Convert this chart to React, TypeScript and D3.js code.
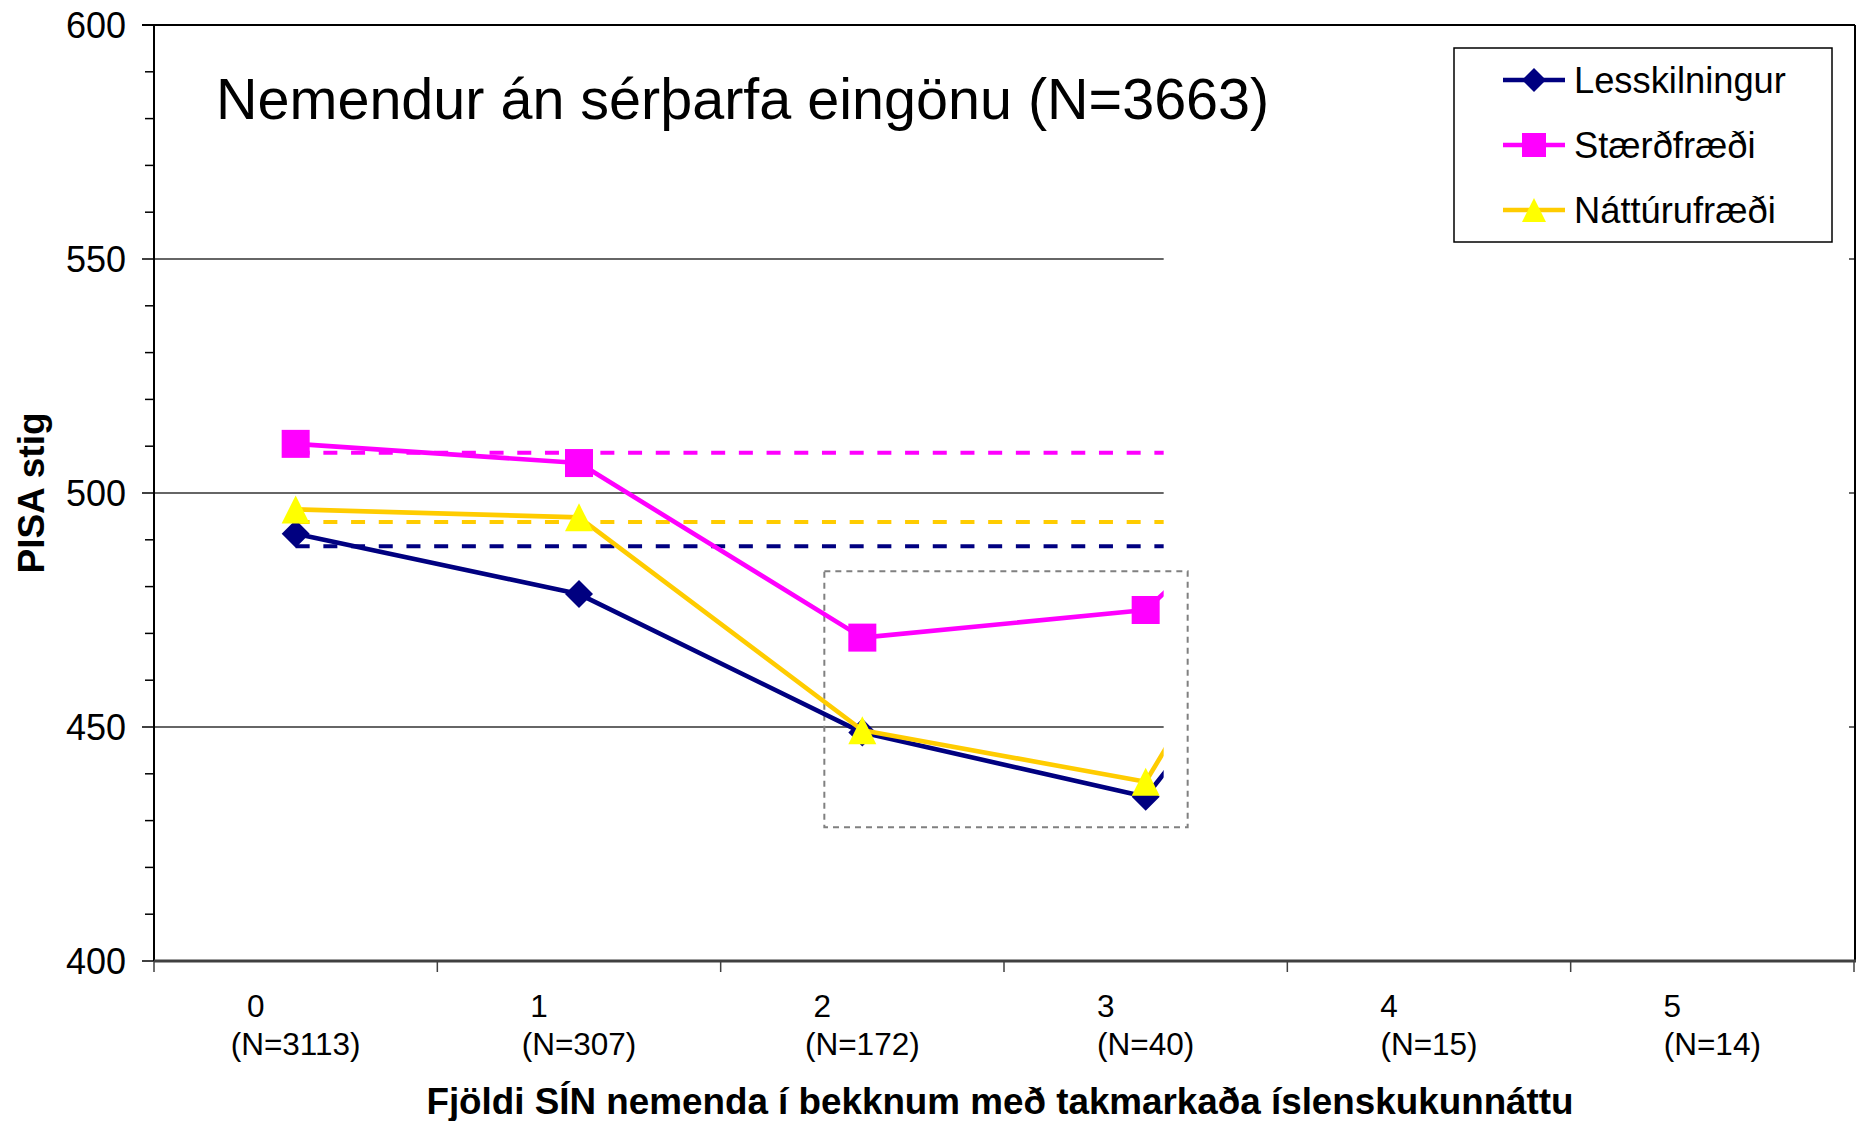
import React from "react";
import * as d3 from "d3";

// ---------- data ----------
const categories = ["0", "1", "2", "3", "4", "5"];
const categoryN = ["(N=3113)", "(N=307)", "(N=172)", "(N=40)", "(N=15)", "(N=14)"];
const seriesNames = ["Lesskilningur", "Stærðfræði", "Náttúrufræði"];
const lesskilningur: (number | null)[] = [491.3, 478.4, 448.8, 435.1, 512, null];
const staerdfraedi: (number | null)[] = [510.5, 506.4, 469.1, 475.0, 531, null];
const natturufraedi: (number | null)[] = [496.5, 494.8, 449.3, 438.3, 539, null];
const overallMeans = [488.6, 508.6, 493.8]; // same order as seriesNames
const yTicks = [400, 450, 500, 550, 600];
const yMinorStep = 10;
const highlight = { from: "2", to: "3", low: 428.6, high: 483.3 };
const titleText = "Nemendur án sérþarfa eingönu (N=3663)";
const yTitle = "PISA stig";
const xTitle = "Fjöldi SÍN nemenda í bekknum með takmarkaða íslenskukunnáttu";

// ---------- styles ----------
const lineColors = ["#000080", "#FF00FF", "#FFCC00"];
const markerFills = ["#000080", "#FF00FF", "#FFFF00"];
const markerShapes = ["diamond", "square", "triangle"];
const FONT = "'Liberation Sans', Arial, Helvetica, sans-serif";

const W = 1858;
const H = 1121;
const L = 154;
const R = 1854;
const T = 25;
const B = 961;

function Marker({ shape, cx, cy, size, fill }: { shape: string; cx: number; cy: number; size: number; fill: string }) {
  const h = size / 2;
  if (shape === "square") {
    return <rect x={cx - h} y={cy - h} width={size} height={size} fill={fill} />;
  }
  if (shape === "diamond") {
    return <path d={`M${cx},${cy - h}L${cx + h},${cy}L${cx},${cy + h}L${cx - h},${cy}Z`} fill={fill} />;
  }
  return <path d={`M${cx},${cy - h}L${cx + h},${cy + h}L${cx - h},${cy + h}Z`} fill={fill} />;
}

export default function App() {
  const x = d3.scaleBand<string>().domain(categories).range([L, R]).padding(0);
  const bw = x.bandwidth();
  const cx = (c: string) => (x(c) as number) + bw / 2;
  const y = d3.scaleLinear().domain([400, 600]).range([B, T]);

  const clipRight = cx("3") + 18;
  const seriesData = [lesskilningur, staerdfraedi, natturufraedi];

  const lineGen = d3
    .line<number | null>()
    .defined((d) => d !== null)
    .x((_, i) => cx(categories[i]))
    .y((d) => y(d as number));

  const minorTicks = d3.range(400, 600 + 0.001, yMinorStep);

  const hlLeft = cx(highlight.from) - 38;
  const hlRight = cx(highlight.to) + 42;

  return (
    <svg
      width={W}
      height={H}
      style={{ position: "absolute", left: 0, top: 0, background: "#fff" }}
      fontFamily={FONT}
    >
      <defs>
        <clipPath id="plotClip">
          <rect x={L} y={T} width={clipRight - L} height={B - T} />
        </clipPath>
      </defs>
      <rect x={0} y={0} width={W} height={H} fill="#fff" />

      {/* gridlines */}
      {yTicks
        .filter((t) => t !== 400 && t !== 600)
        .map((t) => (
          <g key={"g" + t}>
            <line x1={L} x2={clipRight} y1={y(t)} y2={y(t)} stroke="#333" strokeWidth={1.5} />
            <line x1={R - 5} x2={R} y1={y(t)} y2={y(t)} stroke="#333" strokeWidth={1.5} />
          </g>
        ))}

      {/* plot border: top, right, left */}
      <line x1={L - 12} x2={R + 1} y1={y(600)} y2={y(600)} stroke="#000" strokeWidth={2} />
      <line x1={R + 1} x2={R + 1} y1={T} y2={B} stroke="#000" strokeWidth={2} />
      <line x1={L} x2={L} y1={T} y2={B} stroke="#000" strokeWidth={2} />

      {/* y ticks */}
      {minorTicks.map((t) => (
        <line
          key={"mt" + t}
          x1={t % 50 === 0 ? L - 12 : L - 9}
          x2={L}
          y1={y(t)}
          y2={y(t)}
          stroke="#000"
          strokeWidth={1.5}
        />
      ))}
      {yTicks.map((t) => (
        <text key={"yl" + t} x={126} y={y(t)} dy="0.36em" textAnchor="end" fontSize={36} fill="#000">
          {t}
        </text>
      ))}

      {/* mean dashed lines */}
      <g clipPath="url(#plotClip)">
        {overallMeans.map((m, i) => (
          <line
            key={"m" + i}
            x1={cx(categories[0])}
            x2={cx(categories[categories.length - 1])}
            y1={y(m)}
            y2={y(m)}
            stroke={lineColors[i]}
            strokeWidth={4}
            strokeDasharray="14 13.7"
          />
        ))}
      </g>

      {/* highlight box */}
      <rect
        x={hlLeft}
        y={y(highlight.high)}
        width={hlRight - hlLeft}
        height={y(highlight.low) - y(highlight.high)}
        fill="none"
        stroke="#808080"
        strokeWidth={2}
        strokeDasharray="6 5"
      />

      {/* series */}
      <g clipPath="url(#plotClip)">
        {seriesData.map((s, i) => (
          <g key={"s" + i}>
            <path d={lineGen(s) || ""} fill="none" stroke={lineColors[i]} strokeWidth={4.6} strokeLinejoin="round" />
            {s.map((v, j) =>
              v === null ? null : (
                <Marker key={j} shape={markerShapes[i]} cx={cx(categories[j])} cy={y(v)} size={28} fill={markerFills[i]} />
              )
            )}
          </g>
        ))}
      </g>

      {/* x axis */}
      <line x1={L} x2={R + 2} y1={B} y2={B} stroke="#404040" strokeWidth={3} />
      {[...categories.map((c) => x(c) as number), R].map((px, i) => (
        <line key={"xt" + i} x1={px} x2={px} y1={B} y2={B + 11} stroke="#404040" strokeWidth={1.5} />
      ))}
      {categories.map((c, i) => (
        <g key={"xl" + c}>
          <text x={cx(c) - 40} y={1017} textAnchor="middle" fontSize={31.5} fill="#000">
            {c}
          </text>
          <text x={cx(c)} y={1055} textAnchor="middle" fontSize={31.5} fill="#000">
            {categoryN[i]}
          </text>
        </g>
      ))}

      {/* axis titles */}
      <text x={1000} y={1114} textAnchor="middle" fontSize={36.8} fontWeight="bold" fill="#000">
        {xTitle}
      </text>
      <text
        transform={`translate(44, ${(T + B) / 2}) rotate(-90)`}
        textAnchor="middle"
        fontSize={37}
        fontWeight="bold"
        fill="#000"
      >
        {yTitle}
      </text>

      {/* chart title */}
      <text x={216} y={119} fontSize={57.5} fill="#000">
        {titleText}
      </text>

      {/* legend */}
      <rect x={1454} y={48} width={378} height={194} fill="#fff" stroke="#000" strokeWidth={1.5} />
      {seriesNames.map((n, i) => {
        const ly = 80 + i * 65;
        return (
          <g key={"lg" + i}>
            <line x1={1503} x2={1565} y1={ly} y2={ly} stroke={lineColors[i]} strokeWidth={4.6} />
            <Marker shape={markerShapes[i]} cx={1534} cy={ly} size={24} fill={markerFills[i]} />
            <text x={1574} y={ly} dy="0.36em" fontSize={36.3} fill="#000">
              {n}
            </text>
          </g>
        );
      })}
    </svg>
  );
}
